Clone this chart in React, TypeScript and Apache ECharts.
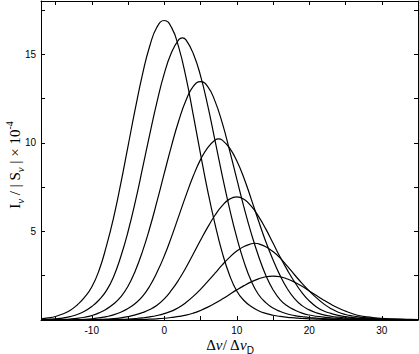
import React, { useEffect, useRef } from "react";
import * as echarts from "echarts";

const xs = [-17,-16,-15,-14,-13,-12,-11,-10,-9,-8,-7,-6,-5,-4,-3,-2,-1,0,1,2,3,4,5,6,7,8,9,10,11,12,13,14,15,16,17,18,19,20,21,22,23,24,25,26,27,28,29,30,31,32,33,34,35];

const curve1 = [0.07,0.12,0.20,0.34,0.54,0.85,1.27,1.86,2.79,4.14,5.75,7.69,9.80,11.91,13.86,15.46,16.53,16.9,16.51,15.38,13.69,11.58,9.38,7.27,5.41,3.80,2.54,1.64,1.10,0.76,0.52,0.37,0.27,0.20,0.15,0.12,0.085,0.068,0.05,0.034,0.025,0.017,0.01,0.008,0.005,0.003,0.002,0,0,0,0,0,0];
const curve2 = [0.016,0.032,0.064,0.11,0.19,0.31,0.49,0.76,1.13,1.64,2.43,3.57,4.98,6.66,8.55,10.48,12.31,13.90,15.09,15.82,15.81,15.04,13.79,12.09,10.13,8.15,6.30,4.66,3.28,2.20,1.44,0.98,0.68,0.48,0.34,0.25,0.19,0.14,0.11,0.08,0.064,0.048,0.032,0.024,0.016,0.01,0.006,0.003,0,0,0,0,0];
const curve3 = [0.004,0.008,0.015,0.03,0.054,0.093,0.155,0.25,0.40,0.61,0.90,1.30,1.90,2.77,3.87,5.19,6.69,8.27,9.83,11.24,12.40,13.18,13.45,13.17,12.35,11.12,9.59,7.96,6.36,4.89,3.61,2.53,1.71,1.14,0.79,0.56,0.39,0.28,0.21,0.16,0.12,0.097,0.071,0.056,0.044,0.031,0.02,0.012,0.006,0,0,0,0];
const curve4 = [0,0,0.003,0.006,0.012,0.022,0.04,0.07,0.115,0.19,0.29,0.44,0.65,0.93,1.33,1.92,2.69,3.61,4.69,5.86,7.03,8.12,9.05,9.73,10.15,10.15,9.71,8.98,8.00,6.82,5.60,4.43,3.40,2.49,1.75,1.19,0.81,0.57,0.40,0.29,0.21,0.157,0.12,0.092,0.073,0.055,0.044,0.033,0.024,0.016,0.01,0.005,0];
const curve5 = [0,0,0,0,0,0,0.007,0.016,0.028,0.047,0.076,0.123,0.19,0.285,0.42,0.59,0.83,1.19,1.68,2.27,2.96,3.72,4.50,5.24,5.91,6.45,6.82,6.95,6.81,6.42,5.85,5.14,4.34,3.54,2.80,2.13,1.54,1.08,0.74,0.51,0.37,0.26,0.19,0.14,0.106,0.082,0.063,0.051,0.038,0.031,0.024,0.019,0.013];
const curve6 = [0,0,0,0,0,0,0,0,0.005,0.012,0.02,0.031,0.05,0.079,0.12,0.177,0.255,0.36,0.50,0.70,0.99,1.33,1.73,2.18,2.64,3.11,3.53,3.89,4.15,4.30,4.30,4.13,3.86,3.49,3.02,2.54,2.07,1.64,1.25,0.91,0.64,0.44,0.31,0.225,0.164,0.12,0.089,0.067,0.052,0.041,0.033,0.026,0.021];
const curve7 = [0,0,0,0,0,0,0,0,0,0,0.004,0.007,0.012,0.02,0.03,0.046,0.069,0.10,0.144,0.20,0.273,0.387,0.54,0.725,0.94,1.18,1.44,1.70,1.94,2.15,2.32,2.44,2.48,2.44,2.31,2.13,1.90,1.64,1.38,1.12,0.885,0.676,0.50,0.35,0.24,0.174,0.128,0.094,0.069,0.052,0.04,0.031,0.025];

// peak positions and heights of each profile
const peakX = [0, 2.5, 5, 7.5, 10, 12.5, 15];
const peakY = [16.9, 15.92, 13.45, 10.22, 6.95, 4.33, 2.48];

const curves = [curve1, curve2, curve3, curve4, curve5, curve6, curve7];

const xTickValues = [-15,-10,-5,0,5,10,15,20,25,30];
const xLabelValues = [-10,0,10,20,30];
const yTickValues = [2.5,5,7.5,10,12.5,15,17.5];
const yLabelValues = [5,10,15];

const xTitle = "{t|Δ}{ti|ν}{t|/ Δ}{ti|ν}{sub|D}";
const yTitle = "{t|I}{sub|ν}{t| / | S}{sub|ν}{t| | × 10}{sup|-4}";

function buildData(k: number): number[][] {
  const pts: number[][] = xs.map((x, i) => [x, curves[k][i]]);
  if (!xs.includes(peakX[k])) pts.push([peakX[k], peakY[k]]);
  pts.sort((a, b) => a[0] - b[0]);
  return pts;
}

export default function App() {
  const ref = useRef<HTMLDivElement>(null);
  useEffect(() => {
    if (!ref.current) return;
    const chart = echarts.init(ref.current, null, { renderer: "svg" });
    const tickStyle = { lineStyle: { color: "#000", width: 1 } };
    const labelFont = { color: "#000", fontSize: 10, fontFamily: "Liberation Sans" };
    const mkX = (pos: "bottom" | "top", labels: boolean) => ({
      type: "value",
      position: pos,
      min: -17,
      max: 35,
      axisLine: { show: true, onZero: false, lineStyle: { color: "#000", width: 1 } },
      axisTick: { show: true, inside: true, length: 4, customValues: xTickValues, ...tickStyle },
      axisLabel: { show: labels, margin: 5, customValues: xLabelValues, ...labelFont },
      splitLine: { show: false },
    });
    const mkY = (pos: "left" | "right", labels: boolean) => ({
      type: "value",
      position: pos,
      min: 0,
      max: 18,
      axisLine: { show: true, onZero: false, lineStyle: { color: "#000", width: 1 } },
      axisTick: { show: true, inside: true, length: 4, customValues: yTickValues, ...tickStyle },
      axisLabel: { show: labels, margin: 5, customValues: yLabelValues, ...labelFont },
      splitLine: { show: false },
    });
    const serif = "Liberation Serif";
    chart.setOption({
      animation: false,
      backgroundColor: "#fff",
      grid: { left: 41, right: 1, top: 1, bottom: 34, containLabel: false, outerBoundsMode: "none" },
      xAxis: [mkX("bottom", true), mkX("top", false)],
      yAxis: [mkY("left", true), mkY("right", false)],
      graphic: [
        {
          type: "text",
          x: 230,
          y: 345,
          style: {
            text: xTitle,
            align: "center",
            verticalAlign: "middle",
            rich: {
              t: { fontFamily: serif, fontSize: 15, fill: "#000", lineHeight: 14, verticalAlign: "bottom" },
              ti: { fontFamily: serif, fontStyle: "italic", fontSize: 15, fill: "#000", lineHeight: 14, verticalAlign: "bottom" },
              sub: { fontFamily: "Liberation Sans", fontSize: 10, fill: "#000", lineHeight: 14, verticalAlign: "bottom", padding: [0, 0, -3, 0] },
            },
          },
        },
        {
          type: "text",
          x: 13,
          y: 165,
          rotation: Math.PI / 2,
          style: {
            text: yTitle,
            align: "center",
            verticalAlign: "middle",
            rich: {
              t: { fontFamily: serif, fontSize: 15, fill: "#000", lineHeight: 18, verticalAlign: "bottom" },
              sub: { fontFamily: serif, fontStyle: "italic", fontSize: 11, fill: "#000", lineHeight: 18, verticalAlign: "bottom", padding: [0, 0, -3, 0] },
              sup: { fontFamily: serif, fontSize: 10, fill: "#000", lineHeight: 18, verticalAlign: "top" },
            },
          },
        },
      ],
      series: curves.map((_, k) => ({
        type: "line",
        xAxisIndex: 0,
        yAxisIndex: 0,
        data: buildData(k),
        smooth: 0.5,
        showSymbol: false,
        symbol: "none",
        lineStyle: { color: "#000", width: 1.2 },
        silent: true,
      })),
    });
    return () => chart.dispose();
  }, []);
  return (
    <div
      ref={ref}
      style={{ position: "fixed", left: 0, top: 0, width: 419, height: 354, background: "#fff" }}
    />
  );
}
